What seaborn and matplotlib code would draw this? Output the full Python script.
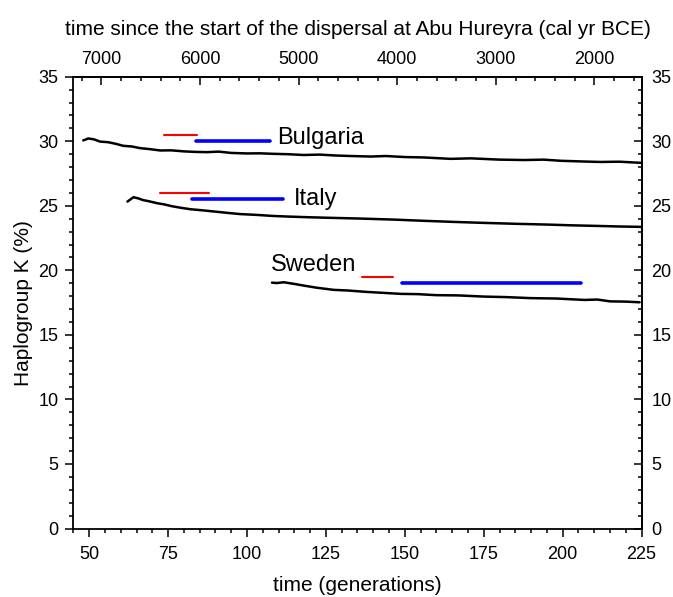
import numpy as np
import pandas as pd
import matplotlib
matplotlib.use("Agg")
import matplotlib.pyplot as plt
from matplotlib.ticker import MultipleLocator
import seaborn as sns

# Simulated haplogroup K frequency (%) against time in generations
bulgaria_gen = [48.1, 49.7, 51.5, 53.4, 56.0, 58.5, 60.8, 63.5, 66.1, 69.0, 72.5, 76.0, 80.0,
                83.5, 87.3, 91.0, 95.0, 100.0, 104.0, 108.4, 113.0, 118.0, 123.0, 128.0,
                133.0, 139.2, 144.0, 150.0, 156.0, 164.5, 171.0, 180.0, 188.0, 194.0,
                199.5, 206.0, 212.0, 218.0, 225.0]
bulgaria_val = [30.07, 30.22, 30.15, 29.98, 29.93, 29.80, 29.65, 29.60, 29.47, 29.40, 29.29,
                29.30, 29.22, 29.18, 29.16, 29.20, 29.10, 29.06, 29.07, 29.03, 29.00, 28.94,
                28.97, 28.90, 28.86, 28.82, 28.86, 28.78, 28.75, 28.64, 28.68, 28.58, 28.55,
                28.58, 28.49, 28.44, 28.40, 28.42, 28.33]

italy_gen = [62.1, 64.0, 65.5, 67.0, 69.0, 71.4, 74.0, 76.0, 79.0, 82.0, 86.0, 90.0, 94.0,
             97.9, 103.0, 108.0, 113.0, 119.1, 125.0, 130.0, 135.0, 139.2, 147.0, 155.0,
             165.0, 175.0, 185.0, 195.0, 203.0, 210.0, 218.0, 225.0]
italy_val = [25.33, 25.67, 25.58, 25.45, 25.35, 25.21, 25.10, 24.98, 24.85, 24.74, 24.65,
             24.55, 24.45, 24.36, 24.30, 24.22, 24.17, 24.12, 24.08, 24.05, 24.02, 23.99,
             23.93, 23.85, 23.76, 23.68, 23.61, 23.55, 23.49, 23.45, 23.40, 23.37]

sweden_gen = [107.9, 109.5, 111.6, 115.0, 118.0, 122.0, 127.5, 132.0, 138.0, 143.0, 148.7,
              154.0, 160.0, 167.0, 175.1, 182.0, 190.0, 198.0, 206.9, 211.0, 215.0, 220.0,
              224.4]
sweden_val = [19.05, 19.02, 19.08, 18.95, 18.82, 18.66, 18.49, 18.44, 18.33, 18.26, 18.18,
              18.16, 18.08, 18.06, 17.97, 17.93, 17.85, 17.82, 17.71, 17.74, 17.60, 17.58,
              17.53]

# Archaeological date ranges (generations): red = first Neolithic, blue = later span
countries = ["Bulgaria", "Italy", "Sweden"]
red_start = [73.7, 72.5, 136.5]
red_end = [84.1, 87.9, 146.4]
red_level = [30.5, 26.0, 19.5]
blue_start = [83.9, 82.7, 149.1]
blue_end = [107.2, 111.3, 205.8]
blue_level = [30.0, 25.5, 19.0]
label_gen = [109.6, 114.7, 107.4]
label_level = [30.27, 25.54, 20.43]

x_ticks = [50, 75, 100, 125, 150, 175, 200, 225]
y_ticks = [0, 5, 10, 15, 20, 25, 30, 35]
bce_ticks = [7000, 6000, 5000, 4000, 3000, 2000]

sns.set_theme(style="ticks")
plt.rcParams["font.family"] = ["Liberation Sans", "DejaVu Sans"]
plt.rcParams["text.color"] = "black"
plt.rcParams["axes.labelcolor"] = "black"
plt.rcParams["xtick.color"] = "black"
plt.rcParams["ytick.color"] = "black"
plt.rcParams["axes.edgecolor"] = "black"

fig = plt.figure(figsize=(6.73, 5.97), dpi=100)
ax = fig.add_axes([0.1092, 0.1147, 0.8440, 0.7567])

curves = pd.concat([
    pd.DataFrame({"gen": bulgaria_gen, "K": bulgaria_val, "country": "Bulgaria"}),
    pd.DataFrame({"gen": italy_gen, "K": italy_val, "country": "Italy"}),
    pd.DataFrame({"gen": sweden_gen, "K": sweden_val, "country": "Sweden"}),
])
sns.lineplot(data=curves, x="gen", y="K", units="country", estimator=None, sort=False,
             color="black", linewidth=1.8, ax=ax, legend=False)

for i, name in enumerate(countries):
    seg_r = pd.DataFrame({"gen": [red_start[i], red_end[i]], "K": [red_level[i]] * 2})
    seg_b = pd.DataFrame({"gen": [blue_start[i], blue_end[i]], "K": [blue_level[i]] * 2})
    sns.lineplot(data=seg_r, x="gen", y="K", color="#ff0000", linewidth=1.5, ax=ax,
                 estimator=None, sort=False)
    sns.lineplot(data=seg_b, x="gen", y="K", color="#0000ff", linewidth=2.6, ax=ax,
                 estimator=None, sort=False)
    ax.text(label_gen[i], label_level[i], name, fontsize=17, va="center", ha="left",
            color="black")

ax.set_xlim(45, 225)
ax.set_ylim(0, 35)
ax.set_xticks(x_ticks)
ax.set_yticks(y_ticks)
ax.xaxis.set_minor_locator(MultipleLocator(5))
ax.yaxis.set_minor_locator(MultipleLocator(1))
ax.tick_params(axis="both", which="major", direction="out", length=5.8, width=1.1,
               labelsize=13, color="black", labelcolor="black")
ax.tick_params(axis="x", which="major", pad=6.5)
ax.tick_params(axis="y", which="major", pad=5)
ax.tick_params(axis="both", which="minor", direction="out", length=2.9, width=1.1,
               color="black")
ax.set_xlabel("time (generations)", fontsize=15, labelpad=10, color="black")
ax.set_ylabel("Haplogroup K (%)", fontsize=15, labelpad=4, color="black")

for s in ax.spines.values():
    s.set_visible(True)
    s.set_linewidth(1.3)
    s.set_color("black")

# Top axis: calendar years BCE (about 32 years per generation)
def gen_to_bce(g):
    return 8723.0 - 32.0 * np.asarray(g, dtype=float)

def bce_to_gen(y):
    return (8723.0 - np.asarray(y, dtype=float)) / 32.0

top = ax.secondary_xaxis("top", functions=(gen_to_bce, bce_to_gen))
top.set_xticks(bce_ticks)
top.xaxis.set_minor_locator(MultipleLocator(200))
top.tick_params(which="major", direction="in", length=5.8, width=1.1, labelsize=13, pad=6.5,
                color="black", labelcolor="black")
top.tick_params(which="minor", direction="in", length=2.9, width=1.1, color="black")
top.set_xlabel("time since the start of the dispersal at Abu Hureyra (cal yr BCE)",
               fontsize=15, labelpad=11, color="black")
top.spines["top"].set_linewidth(1.3)
top.spines["top"].set_color("black")

right = ax.secondary_yaxis("right", functions=(lambda v: v, lambda v: v))
right.set_yticks(y_ticks)
right.yaxis.set_minor_locator(MultipleLocator(1))
right.tick_params(which="major", direction="in", length=5.8, width=1.1, labelsize=13, pad=7,
                  color="black", labelcolor="black")
right.tick_params(which="minor", direction="in", length=2.9, width=1.1, color="black")
right.spines["right"].set_linewidth(1.3)
right.spines["right"].set_color("black")

fig.savefig("out.png", dpi=100)
